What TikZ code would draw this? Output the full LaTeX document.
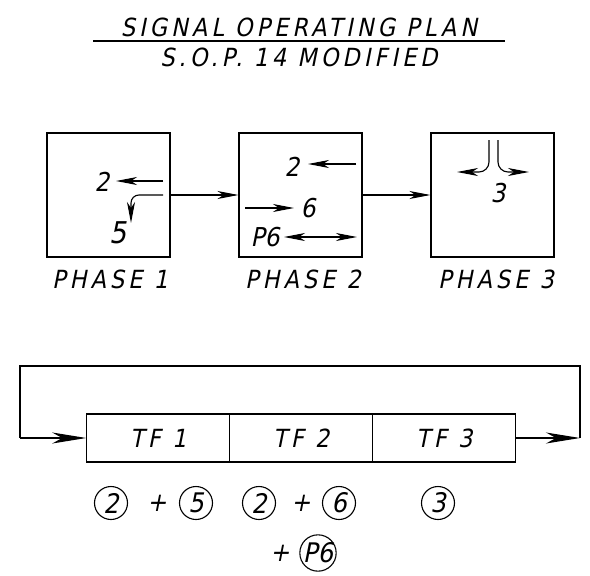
\documentclass[tikz,border=0pt]{standalone}
\usepackage{fontspec}
\usetikzlibrary{arrows.meta}
\newfontfamily\cad[FakeSlant=0.2,LetterSpace=16]{DejaVu Sans Condensed}
\newfontfamily\cadn[FakeSlant=0.2]{DejaVu Sans Condensed}
\tikzset{
  every node/.style={font=\cad\fontsize{25}{28}\selectfont, inner sep=0pt},
  line/.style={line width=1.1pt},
  >={Stealth[length=21pt,width=8pt,inset=6pt]},
  bigarrow/.style={-{Stealth[length=34pt,width=11pt,inset=10pt]}},
  phasebox/.style={draw, line width=1.1pt, minimum width=123pt, minimum height=124pt},
  tfbox/.style={draw, line width=1.1pt, minimum width=143pt, minimum height=48pt},
  circ/.style={draw, circle, line width=1.1pt, minimum size=33pt, font=\cadn\fontsize{27}{28}\selectfont},
  plus/.style={font=\cadn\fontsize{26}{28}\selectfont},
}
\begin{document}
\begin{tikzpicture}[x=1pt,y=-1pt]
\useasboundingbox (0,0) rectangle (590,576);
% title
\node (t1) at (299,27) {SIGNAL OPERATING PLAN};
\node (t2) at (299,57) {S.O.P. 14 MODIFIED};
\coordinate (ul1) at (93,41);
\coordinate (ul2) at (505,41);
\draw[line] (ul1) -- (ul2);
% phase boxes
\node[phasebox] (p1) at (108.5,195) {};
\node[phasebox] (p2) at (300.5,195) {};
\node[phasebox] (p3) at (492.5,195) {};
\node (l1) at (110,279) {PHASE 1};
\node (l2) at (303,279) {PHASE 2};
\node (l3) at (496,279) {PHASE 3};
\draw[line,->] (p1.east) -- (p2.west);
\draw[line,->] (p2.east) -- (p3.west);
% phase 1 contents
\node[plus] (n12) at (102,182) {2};
\coordinate (a1s) at (163,181);
\coordinate (a1e) at (116,181);
\draw[line,->] (a1s) -- (a1e);
\coordinate (b1s) at (163,195);
\coordinate (b1e) at (131,223);
\draw[line,->] (b1s) -- (139,195) to[out=180,in=90] (131,203) -- (b1e);
\node[font=\cadn\fontsize{30}{30}\selectfont] (n15) at (118,233) {5};
% phase 2 contents
\node[plus] (n22) at (292,167) {2};
\coordinate (a2s) at (356,164);
\coordinate (a2e) at (308,164);
\draw[line,->] (a2s) -- (a2e);
\coordinate (a6s) at (245,208);
\coordinate (a6e) at (294,208);
\draw[line,->] (a6s) -- (a6e);
\node[plus] (n26) at (308,208) {6};
\node[plus] (np6) at (265,237) {P6};
\coordinate (ap6a) at (284,237);
\coordinate (ap6b) at (357,237);
\draw[line,<->] (ap6a) -- (ap6b);
% phase 3 contents
\coordinate (c3l) at (489,140);
\coordinate (c3r) at (498,140);
\coordinate (e3l) at (457,172);
\coordinate (e3r) at (529,172);
\draw[line,->] (c3l) -- (489,162) to[out=-90,in=0] (479,172) -- (e3l);
\draw[line,->] (c3r) -- (498,162) to[out=-90,in=180] (508,172) -- (e3r);
\node[plus] (n33) at (498,193) {3};
% timing boxes
\node[tfbox] (tf1) at (158.3,438) {TF 1};
\node[tfbox] (tf2) at (301.3,438) {TF 2};
\node[tfbox] (tf3) at (444.3,438) {TF 3};
\coordinate (lpL) at (20,438);
\coordinate (lpR) at (580,438);
\draw[line,bigarrow] (lpL) -- (tf1.west);
\draw[line,bigarrow] (tf3.east) -- (lpR);
\draw[line] (lpR) -- (580,366) -- (20,366) -- (lpL);
% circled
\node[circ] (c2a) at (111,503) {2};
\node[plus] (pl1) at (157,503) {+};
\node[circ] (c5) at (196,503) {5};
\node[circ] (c2b) at (259,503) {2};
\node[plus] (pl2) at (301,503) {+};
\node[circ] (c6) at (339,503) {6};
\node[circ] (c3) at (438,503) {3};
\node[plus] (pl3) at (280,553) {+};
\node[circ] (cp6) at (318,553) {P6};
\end{tikzpicture}
\end{document}
